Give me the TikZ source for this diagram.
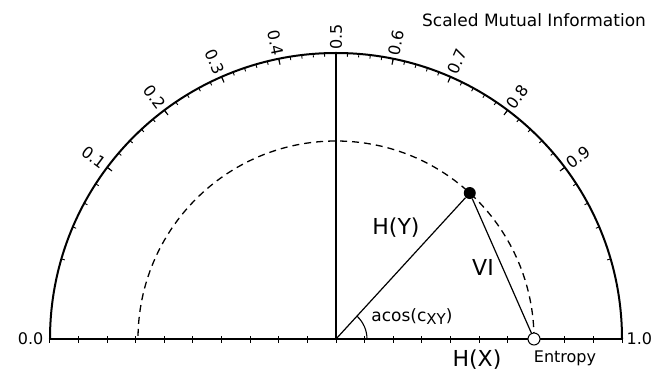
\documentclass[tikz,border=0pt]{standalone}
\usepackage{fontspec}
\setmainfont{DejaVu Sans}
\usetikzlibrary{positioning}

\begin{document}
\begin{tikzpicture}[
  x=1pt, y=1pt,
  rim/.style={line width=2pt},
  ray/.style={line width=1.2pt},
  ticklbl/.style={font=\fontsize{16}{16}\selectfont,inner sep=1.5pt},
  biglbl/.style={font=\fontsize{22}{22}\selectfont,inner sep=0pt},
  smalllbl/.style={font=\fontsize{16}{16}\selectfont,inner sep=0pt},
  dotfull/.style={circle,fill=black,minimum size=12pt,inner sep=0pt},
  dotopen/.style={circle,draw,fill=white,line width=1pt,minimum size=12pt,inner sep=0pt}]
\useasboundingbox (-336,-33) rectangle (316,339);
\coordinate (o) at (0,0);
\coordinate (top) at (90:286);
% half circle and axis
\draw[rim] (-286,0) -- (286,0);
\draw[rim] (286,0) arc[start angle=0,end angle=180,radius=286];
\draw[line width=1.6pt] (o) -- (top);
\draw[line width=1.3pt,dash pattern=on 7pt off 5pt] (198,0) arc[start angle=0,end angle=180,radius=198];
% ticks
\foreach \k in {-10,...,10}
  \draw[line width=1pt] (\k*28.6,-3.5) -- (\k*28.6,3.5);
\foreach \k in {1,...,49} {
  \pgfmathsetmacro\th{acos(\k/25-1)}
  \draw[line width=0.9pt] (\th:286) -- (\th:282.5);
}
\foreach \k in {1,...,9} {
  \pgfmathsetmacro\th{acos(\k/5-1)}
  \draw[line width=1.1pt] (\th:286) -- (\th:280);
}
% scale labels
\foreach \k in {1,...,4} {
  \pgfmathsetmacro\th{acos(\k/5-1)}
  \node[ticklbl,anchor=east,rotate=\th+180] (s\k) at (\th:288) {0.\k};
}
\node[ticklbl,anchor=west,rotate=90] (s5) at (90:288) {0.5};
\foreach \k in {6,...,9} {
  \pgfmathsetmacro\th{acos(\k/5-1)}
  \node[ticklbl,anchor=west,rotate=\th] (s\k) at (\th:288) {0.\k};
}
\node[ticklbl,anchor=east] (s0) at (-291,0) {0.0};
\node[ticklbl,anchor=west] (s10) at (289,0) {1.0};
\node[font=\fontsize{17}{17}\selectfont] (title) at (198,319) {Scaled Mutual Information};
% the two entropies
\node[dotfull] (py) at (47.5:198) {};
\node[dotopen] (px) at (198,0) {};
\draw[ray] (o) -- (py);
\draw[ray] (py) -- (px);
\draw[line width=1.1pt] (31,0) arc[start angle=0,end angle=47.5,radius=31];
\node[biglbl] (hy) at (60,111) {H(Y)};
\node[biglbl] (vi) at (147,72) {VI};
\node[biglbl] (hx) at (141,-21) {H(X)};
\node[smalllbl] (ent) at (229,-19) {Entropy};
\node[font=\fontsize{17}{17}\selectfont,inner sep=0pt] (ang) at (76,22)
  {acos(c\raisebox{-3pt}{\fontsize{15}{15}\selectfont XY})};
\end{tikzpicture}
\end{document}
